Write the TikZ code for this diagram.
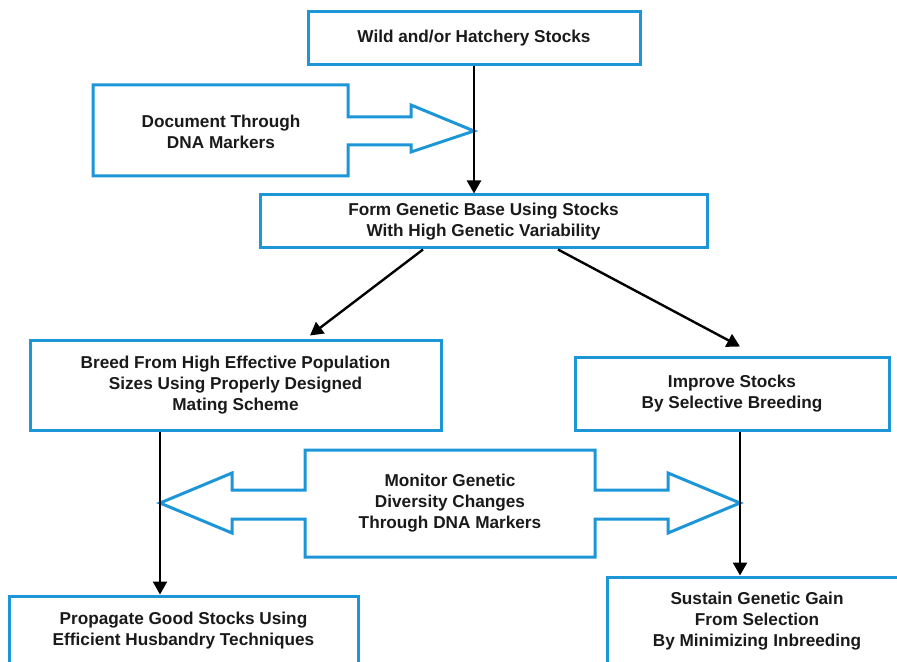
\documentclass[tikz,border=0pt]{standalone}
\usepackage{fontspec}
\setmainfont{Liberation Sans}
\usepackage{xcolor}
\usetikzlibrary{arrows.meta,calc}

\definecolor{boxblue}{RGB}{29,150,216}
\definecolor{txtgray}{RGB}{26,26,26}

\tikzset{
  stepbox/.style={draw=boxblue,line width=1.5pt,fill=white,align=center,inner sep=0pt,
    text=txtgray,font=\bfseries\fontsize{8.6}{10.5}\selectfont},
  lbl/.style={align=center,inner sep=0pt,text=txtgray,font=\bfseries\fontsize{8.6}{10.5}\selectfont},
  fatarrow/.style={draw=boxblue,line width=1.5pt,line join=miter,fill=white},
  arr/.style={-{Triangle[length=6.5pt,width=7pt]},line width=1.2pt}
}

\begin{document}
\begin{tikzpicture}[x=0.5pt,y=-0.5pt]
% page = 897 x 662 px, one unit = one pixel
\useasboundingbox (0,0) rectangle (897,662);
\clip (0,0) rectangle (897,662);

% boxes
\node[stepbox,minimum width=166pt,minimum height=26.5pt] (wild) at (474,38.5) {Wild and/or Hatchery Stocks};
\node[stepbox,minimum width=223.5pt,minimum height=26.5pt] (form) at (483.5,221.5) {Form Genetic Base Using Stocks\\With High Genetic Variability};
\node[stepbox,minimum width=205.5pt,minimum height=45pt] (breed) at (235.5,385) {Breed From High Effective Population\\Sizes Using Properly Designed\\Mating Scheme};
\node[stepbox,minimum width=157pt,minimum height=36.5pt] (improve) at (732,393.5) {Improve Stocks\\By Selective Breeding};
\node[stepbox,minimum width=174.5pt,minimum height=35pt] (propagate) at (183.5,631) {Propagate Good Stocks Using\\Efficient Husbandry Techniques};
\node[stepbox,minimum width=150pt,minimum height=44pt] (sustain) at (757,621) {Sustain Genetic Gain\\From Selection\\By Minimizing Inbreeding};

% block arrows
\draw[fatarrow] (93,85) -- (348,85) -- (348,117) -- (411,117) -- (411,105) -- (474,131)
  -- (411,152) -- (411,145) -- (348,145) -- (348,176) -- (93,176) -- cycle; % document
\node[lbl] (docu) at (221,132) {Document Through\\DNA Markers};

\draw[fatarrow] (305,450) -- (595,450) -- (595,490) -- (668,490) -- (668,473) -- (740,503)
  -- (668,533) -- (668,519) -- (595,519) -- (595,557) -- (305,557) -- (305,519)
  -- (232,519) -- (232,533) -- (160,503) -- (232,473) -- (232,490) -- (305,490) -- cycle; % monitor
\node[lbl] (monitor) at (450,503) {Monitor Genetic\\Diversity Changes\\Through DNA Markers};

% connectors
\coordinate (bl) at ($(breed.south)+(-75.5,0)$);
\coordinate (ir) at ($(improve.south)+(8,0)$);
\draw[arr] (wild.south) -- (wild.south |- form.north);
\draw[arr] ($(form.south)+(-60.5,0)$) -- ($(breed.north)+(74.5,-3)$);
\draw[arr] ($(form.south)+(74.5,0)$) -- ($(improve.north)+(8,-9)$);
\draw[arr] (bl) -- (bl |- propagate.north);
\draw[arr] (ir) -- (ir |- sustain.north);
\end{tikzpicture}
\end{document}
